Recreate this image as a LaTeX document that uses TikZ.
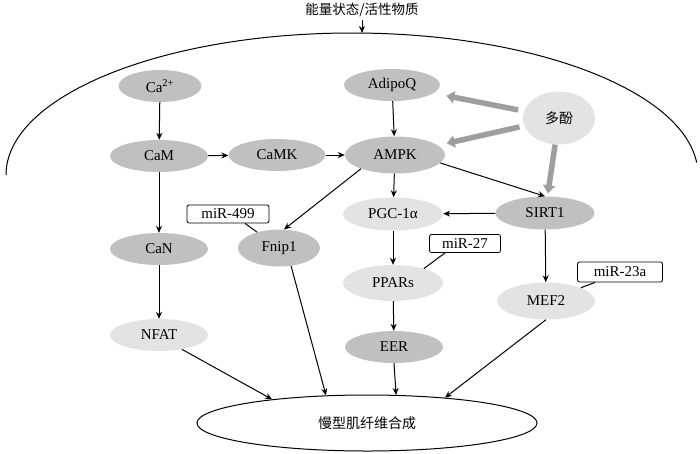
\documentclass[tikz,border=0pt]{standalone}
\usepackage{fontspec}
\setmainfont{Liberation Serif}
\newfontfamily\cjk{Noto Sans CJK SC}
\usetikzlibrary{shapes.geometric,arrows.meta}
\definecolor{darkfill}{RGB}{192,192,192}
\definecolor{lightfill}{RGB}{227,227,227}
\definecolor{polyarrow}{RGB}{158,158,158}
\begin{document}
\begin{tikzpicture}[x=1pt,y=-1pt,
  font=\fontsize{15}{17}\selectfont,
  dnode/.style={ellipse, fill=darkfill, minimum width=98pt, minimum height=33pt, inner sep=0pt},
  lnode/.style={ellipse, fill=lightfill, minimum width=98pt, minimum height=33pt, inner sep=0pt},
  mirbox/.style={draw, rounded corners=2pt, minimum height=18pt, inner sep=0pt, line width=0.8pt},
  arr/.style={-{Stealth[length=7pt,width=6pt]}, line width=1pt},
  garr/.style={draw=polyarrow, line width=5.5pt, -{Triangle[length=8pt,width=12pt]}},
  link/.style={line width=1pt}]
\useasboundingbox (0,0) rectangle (700,453);

% title and cell membrane
\node (title) at (362,10) {\cjk\fontsize{13.5}{15}\selectfont 能量状态/活性物质};
\coordinate (celltop) at (362,33);
\draw[arr] (title) -- (celltop);
\draw[line width=1pt] (6,175) arc[start angle=180, end angle=5, x radius=346pt, y radius=142pt];

% nodes
\node[dnode, minimum width=83pt, minimum height=32pt] (ca) at (160,86) {Ca\textsuperscript{2+}};
\node[dnode, minimum width=96pt, minimum height=32pt] (adipoq) at (392,85) {AdipoQ};
\node[lnode, minimum width=72pt, minimum height=53pt] (poly) at (559,118) {\cjk\fontsize{14}{16}\selectfont 多酚};
\node[dnode, minimum width=98pt, minimum height=32pt] (cam) at (159,156) {CaM};
\node[dnode, minimum width=97pt, minimum height=32pt] (camk) at (277,155) {CaMK};
\node[dnode, minimum width=100pt, minimum height=37pt] (ampk) at (395,155) {AMPK};
\node[lnode, minimum width=100pt, minimum height=33pt] (pgc) at (393,214) {PGC-1α};
\node[dnode, minimum width=99pt, minimum height=33pt] (sirt) at (545,213) {SIRT1};
\node[mirbox, minimum width=82pt] (mir499) at (228,214) {miR-499};
\node[dnode, minimum width=82pt, minimum height=37pt] (fnip) at (279,248) {Fnip1};
\node[dnode, minimum width=98pt, minimum height=32pt] (can) at (159,249) {CaN};
\node[mirbox, minimum width=71pt] (mir27) at (465,243.5) {miR-27};
\node[lnode, minimum width=100pt, minimum height=36pt] (ppars) at (393,283) {PPARs};
\node[mirbox, minimum width=85pt, minimum height=20pt] (mir23) at (620,272) {miR-23a};
\node[lnode, minimum width=98pt, minimum height=37pt] (mef2) at (546,301) {MEF2};
\node[lnode, minimum width=98pt, minimum height=32pt] (nfat) at (159,335) {NFAT};
\node[dnode, minimum width=98pt, minimum height=32pt] (eer) at (394,347) {EER};
\node[ellipse, draw, line width=1pt, minimum width=340pt, minimum height=56pt, inner sep=0pt] (slow) at (367,423) {\cjk\fontsize{14}{16}\selectfont 慢型肌纤维合成};

% black arrows
\draw[arr] (ca) -- (cam);
\draw[arr] (cam) -- (can);
\draw[arr] (can) -- (nfat);
\draw[arr] (cam) -- (camk);
\draw[arr] (camk) -- (ampk);
\draw[arr] (adipoq) -- (ampk);
\draw[arr] (ampk) -- (pgc);
\draw[arr] (ampk.202) -- (fnip.75);
\draw[arr] (ampk.-10) -- (sirt.north);
\draw[arr] (sirt) -- (pgc);
\draw[arr] (pgc) -- (ppars);
\draw[arr] (ppars) -- (eer);
\draw[arr] (sirt) -- (mef2);
\draw[arr] (nfat.-32) -- (slow.166);
\draw[arr] (fnip.-56) -- (slow.146);
\draw[arr] (eer.south) -- (slow.44.6);
\draw[arr] (mef2.south) -- (slow.18);

% miRNA links
\draw[link] ([xshift=17pt]mir499.south) -- (fnip);
\draw[link] ([xshift=-20pt]mir27.south) -- (ppars.25);
\draw[link] ([xshift=-25pt]mir23.south) -- (mef2);

% polyphenol arrows
\draw[garr, shorten <=6pt, shorten >=13pt] (poly) -- (adipoq);
\draw[garr, shorten <=5pt, shorten >=9pt] (poly) -- (ampk);
\draw[garr, shorten <=0pt, shorten >=3pt] (poly) -- (sirt);
\end{tikzpicture}
\end{document}
